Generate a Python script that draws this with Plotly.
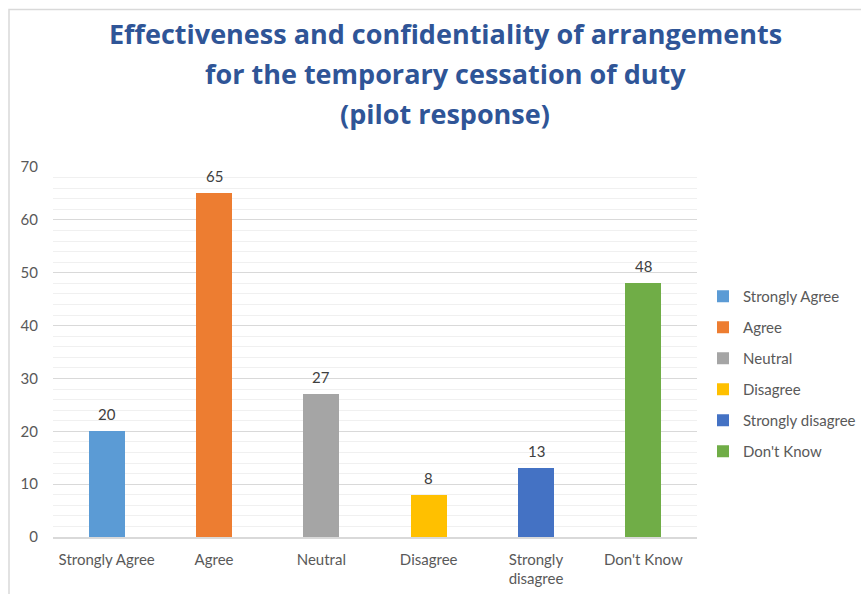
import plotly.graph_objects as go

categories = ["Strongly Agree", "Agree", "Neutral", "Disagree", "Strongly disagree", "Don't Know"]
tick_labels = ["Strongly Agree", "Agree", "Neutral", "Disagree", "Strongly<br>disagree", "Don't Know"]
responses = [20, 65, 27, 8, 13, 48]
colors = ["#5B9BD5", "#ED7D31", "#A5A5A5", "#FFC000", "#4472C4", "#70AD47"]
title_lines = [
    "Effectiveness and confidentiality of arrangements",
    "for the temporary cessation of duty",
    "(pilot response)",
]

W, H = 861, 594
L, R, T, B = 53, 164, 167, 57
plot_w = W - L - R
plot_h = H - T - B

FONT = "Lato, 'Open Sans', sans-serif"
TITLE_FONT = "'Open Sans', Lato, sans-serif"

fig = go.Figure()
for i, (cat, val, col) in enumerate(zip(categories, responses, colors)):
    fig.add_trace(go.Bar(
        x=[i], y=[val], name=cat, marker=dict(color=col, line=dict(width=0)),
        width=0.335, legendgroup=cat, hoverinfo="x+y",
    ))
    fig.add_annotation(
        x=i, y=val, text=str(val), showarrow=False, xref="x", yref="y",
        yanchor="bottom", yshift=6, font=dict(family=FONT, size=15, color="#404040"),
    )


def ypix(py):
    return (H - B - py) / plot_h


def xpix(px):
    return (px - L) / plot_w


# title block, three centred lines
for line, py in zip(title_lines, [34, 74, 114]):
    fig.add_annotation(
        x=xpix(445), y=ypix(py), xref="paper", yref="paper", text=f"<b>{line}</b>",
        showarrow=False, xanchor="center", yanchor="middle",
        font=dict(family=TITLE_FONT, size=27, color="#2F5597"),
    )

# light frame around the chart area
fig.add_shape(
    type="rect", xref="paper", yref="paper",
    x0=xpix(9), x1=xpix(W + 20), y0=ypix(H + 20), y1=ypix(9.5),
    line=dict(color="#D9D9D9", width=1.5), fillcolor="rgba(0,0,0,0)", layer="below",
)

fig.update_layout(
    width=W, height=H,
    margin=dict(l=L, r=R, t=T, b=B, pad=0, autoexpand=False),
    paper_bgcolor="white", plot_bgcolor="white",
    barmode="overlay", bargap=0,
    font=dict(family=FONT, size=15, color="#595959"),
    showlegend=True,
    legend=dict(
        xref="container", yref="container",
        x=703 / W, y=(H - 280) / H, xanchor="left", yanchor="top",
        font=dict(family=FONT, size=15, color="#595959"),
        tracegroupgap=8.5, itemwidth=30, bgcolor="rgba(0,0,0,0)",
    ),
    xaxis=dict(
        tickmode="array", tickvals=list(range(len(categories))), ticktext=tick_labels,
        range=[-0.5, len(categories) - 0.5], showgrid=False, zeroline=False,
        showline=True, linecolor="#D9D9D9", linewidth=1.5, automargin=False,
        ticks="", ticklabelstandoff=8,
        tickfont=dict(family=FONT, size=15, color="#595959"),
    ),
    yaxis=dict(
        range=[0, 70], dtick=10, showgrid=True, gridcolor="#D9D9D9", gridwidth=1.2,
        zeroline=False, showline=False, ticks="", ticklabelstandoff=14, automargin=False,
        tickfont=dict(family=FONT, size=15, color="#595959"),
        minor=dict(dtick=2, showgrid=True, gridcolor="#F0F0F0", gridwidth=1),
    ),
)

fig.write_html("out.html")
